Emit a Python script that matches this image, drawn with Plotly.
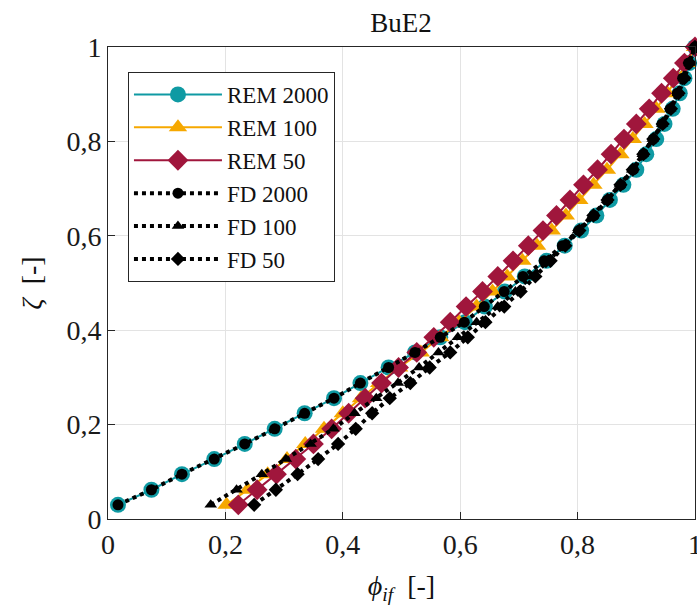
import plotly.graph_objects as go

# Normalised height (zeta) at which every profile is sampled
zeta = [0.030, 0.062, 0.095, 0.127, 0.159, 0.191, 0.224, 0.256, 0.288, 0.321,
        0.353, 0.385, 0.417, 0.450, 0.482, 0.514, 0.547, 0.579, 0.611, 0.643,
        0.676, 0.708, 0.740, 0.773, 0.805, 0.837, 0.869, 0.902, 0.934, 0.966, 1.000]

# phi_if profiles, REM model
rem_2000 = [0.017, 0.074, 0.126, 0.181, 0.233, 0.284, 0.335, 0.385, 0.430, 0.478,
            0.523, 0.566, 0.608, 0.642, 0.676, 0.710, 0.747, 0.778, 0.806, 0.832,
            0.855, 0.878, 0.900, 0.917, 0.934, 0.948, 0.962, 0.974, 0.982, 0.990, 1.000]
rem_100 = [0.202, 0.238, 0.272, 0.305, 0.336, 0.368, 0.400, 0.431, 0.462, 0.496,
           0.533, 0.566, 0.598, 0.628, 0.655, 0.680, 0.706, 0.731, 0.756, 0.780,
           0.803, 0.827, 0.850, 0.873, 0.894, 0.914, 0.934, 0.953, 0.970, 0.986, 1.000]
rem_50 = [0.222, 0.254, 0.287, 0.320, 0.350, 0.381, 0.410, 0.438, 0.466, 0.495,
          0.526, 0.555, 0.583, 0.610, 0.638, 0.664, 0.690, 0.716, 0.741, 0.764,
          0.787, 0.810, 0.834, 0.857, 0.879, 0.900, 0.922, 0.943, 0.963, 0.982, 1.000]

# phi_if profiles, FD model
fd_2000 = [0.017, 0.074, 0.126, 0.181, 0.233, 0.284, 0.335, 0.385, 0.430, 0.478,
           0.523, 0.566, 0.607, 0.641, 0.675, 0.707, 0.743, 0.774, 0.802, 0.828,
           0.851, 0.874, 0.895, 0.912, 0.929, 0.944, 0.958, 0.970, 0.979, 0.989, 1.000]
fd_100 = [0.175, 0.219, 0.262, 0.303, 0.345, 0.384, 0.420, 0.457, 0.494, 0.530,
          0.563, 0.596, 0.628, 0.664, 0.694, 0.722, 0.750, 0.776, 0.801, 0.826,
          0.850, 0.872, 0.893, 0.911, 0.928, 0.944, 0.958, 0.971, 0.981, 0.991, 1.000]
fd_50 = [0.249, 0.286, 0.323, 0.358, 0.392, 0.422, 0.450, 0.480, 0.515, 0.548,
         0.583, 0.613, 0.643, 0.675, 0.703, 0.728, 0.754, 0.779, 0.803, 0.827,
         0.851, 0.873, 0.894, 0.912, 0.929, 0.945, 0.959, 0.972, 0.982, 0.991, 1.000]

# Axis ticks
tick_vals = [0, 0.2, 0.4, 0.6, 0.8, 1]
tick_text = ["0", "0,2", "0,4", "0,6", "0,8", "1"]

TEAL = "#0f9aa3"
ORANGE = "#f6a800"
CRIMSON = "#a0163c"
FONT = "Liberation Serif"

fig = go.Figure()

rem_series = [
    ("REM 2000", rem_2000, TEAL, "circle"),
    ("REM 100", rem_100, ORANGE, "triangle-up"),
    ("REM 50", rem_50, CRIMSON, "diamond"),
]
for name, xs, col, sym in rem_series:
    fig.add_trace(go.Scatter(
        x=xs, y=zeta, name=name, mode="lines+markers", cliponaxis=False,
        line=dict(color=col, width=2),
        marker=dict(symbol=sym, size=16, color=col, line=dict(width=0)),
    ))

fd_series = [
    ("FD 2000", fd_2000, "circle"),
    ("FD 100", fd_100, "triangle-up"),
    ("FD 50", fd_50, "diamond"),
]
for name, xs, sym in fd_series:
    fig.add_trace(go.Scatter(
        x=xs, y=zeta, name=name, mode="lines+markers", cliponaxis=False,
        line=dict(color="black", width=4, dash="dot"),
        marker=dict(symbol=sym, size=11, color="black", line=dict(width=0)),
    ))

axis_common = dict(
    range=[0, 1], tickmode="array", tickvals=tick_vals, ticktext=tick_text,
    showgrid=True, gridcolor="#e3e3e3", gridwidth=1, automargin=False,
    zeroline=False, showline=True, linecolor="#262626", linewidth=1, mirror=True,
    ticks="inside", ticklen=7, tickcolor="#262626",
    ticklabeloverflow="allow",
    tickfont=dict(family=FONT, size=28, color="#1a1a1a"),
)

fig.update_layout(
    width=697, height=607,
    margin=dict(l=108, r=2, t=47, b=88, pad=0, autoexpand=False),
    plot_bgcolor="white", paper_bgcolor="white",
    font=dict(family=FONT, size=24, color="#111"),
    title=dict(text="BuE2", x=0.5755, xanchor="center", y=0.963, yanchor="middle",
               font=dict(family=FONT, size=27, color="#111")),
    xaxis=dict(**axis_common,
               title=dict(text="<i>ϕ</i><sub><i>if</i></sub>  [-]", standoff=16,
                          font=dict(family=FONT, size=28))),
    yaxis=dict(**axis_common,
               title=dict(text="<i>ζ</i>  [-]", standoff=16,
                          font=dict(family=FONT, size=28))),
    legend=dict(x=0.034, y=0.947, xanchor="left", yanchor="top",
                bgcolor="white", bordercolor="#262626", borderwidth=1,
                font=dict(family=FONT, size=23, color="#111"),
                itemwidth=88, tracegroupgap=0),
    showlegend=True,
)

fig.write_html("out.html")
